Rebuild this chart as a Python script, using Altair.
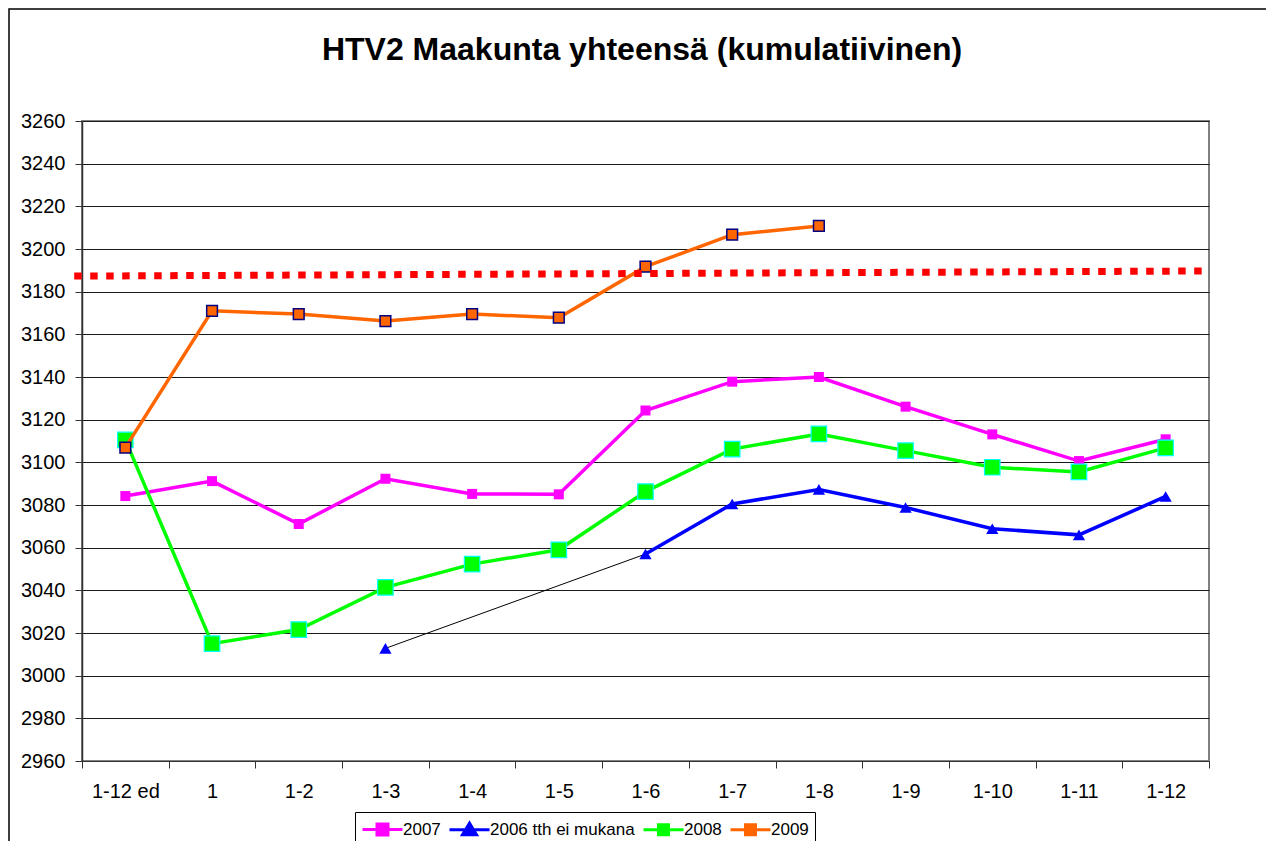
import json
import altair as alt
import pandas as pd

# ---------------- data ----------------
title_text = "HTV2 Maakunta yhteensä (kumulatiivinen)"
categories = ["1-12 ed", "1", "1-2", "1-3", "1-4", "1-5", "1-6",
              "1-7", "1-8", "1-9", "1-10", "1-11", "1-12"]
series_names = ["2007", "2006 tth ei mukana", "2008", "2009"]

v2007 = [3084.2, 3091.2, 3071.1, 3092.3, 3085.2, 3085.0, 3124.3,
         3137.8, 3140.0, 3126.1, 3113.1, 3100.6, 3110.8]
v2006 = [None, None, None, 3012.8, None, None, 3057.0,
         3080.5, 3087.3, 3078.8, 3068.9, 3066.0, 3084.0]
v2008 = [3110.5, 3015.0, 3021.6, 3041.4, 3052.3, 3059.0, 3086.3,
         3106.2, 3113.3, 3105.5, 3097.7, 3095.5, 3106.8]
v2009 = [3106.9, 3171.0, 3169.5, 3166.2, 3169.5, 3167.8, 3191.7,
         3206.7, 3210.8, None, None, None, None]

trend_x = [-0.59, 12.44]
trend_y = [3187.3, 3189.7]

y_ticks = list(range(2960, 3261, 20))

# ---------------- tables ----------------
def series_df(name, vals):
    return pd.DataFrame({"idx": list(range(len(categories))),
                         "cat": categories,
                         "series": name,
                         "value": vals})

d2007 = series_df("2007", v2007)
d2006 = series_df("2006 tth ei mukana", v2006)
d2008 = series_df("2008", v2008)
d2009 = series_df("2009", v2009)
d2006_valid = d2006.dropna()
trend_df = pd.DataFrame({"idx": trend_x, "value": trend_y})

# ---------------- layout ----------------
PLOT_W = 1127
PLOT_H = 640
band = PLOT_W / len(categories)
FONT = "Liberation Sans"

label_expr = ("datum.value < 12 ? " + json.dumps(categories, ensure_ascii=False)
              + "[round(datum.value + 0.5)] : ''")

x_enc = alt.X(
    "idx:Q",
    scale=alt.Scale(domain=[-0.5, len(categories) - 0.5], nice=False, zero=False),
    axis=alt.Axis(values=[i - 0.5 for i in range(len(categories) + 1)],
                  title=None, grid=False, labelExpr=label_expr,
                  labelOffset=band / 2, labelFlush=False, labelOverlap=False,
                  labelBound=False, tickSize=7, labelPadding=13,
                  domainColor="#333333", tickColor="#333333",
                  labelFontSize=20, labelColor="black"),
)
y_enc = alt.Y(
    "value:Q",
    scale=alt.Scale(domain=[2960, 3260], nice=False, zero=False),
    axis=alt.Axis(values=y_ticks, format="d", title=None, grid=True,
                  gridColor="#1a1a1a", gridWidth=1, tickSize=7, labelPadding=10,
                  domainColor="#333333", domainWidth=1.5, tickColor="#333333",
                  labelFontSize=20, labelColor="black"),
)

def line_layer(df, color, width, **kw):
    return alt.Chart(df).mark_line(color=color, strokeWidth=width, **kw).encode(
        x=x_enc, y=y_enc)

def point_layer(df, shape, size, fill, stroke=None, sw=0):
    props = dict(shape=shape, size=size, fill=fill, filled=True, opacity=1)
    if stroke is not None:
        props.update(stroke=stroke, strokeWidth=sw)
    return alt.Chart(df).mark_point(**props).encode(x=x_enc, y=y_enc)

# outer border of the chart area
border = alt.Chart(alt.Data(values=[{"a": 1}])).mark_rect(
    fillOpacity=0, stroke="black", strokeWidth=1.5, clip=False
).encode(x=alt.value(-73), y=alt.value(-112), x2=alt.value(1400), y2=alt.value(900))

# chart title (as a text mark above the plot)
title = alt.Chart(alt.Data(values=[{"t": title_text}])).mark_text(
    font=FONT, fontSize=32, fontWeight="bold", align="center",
    baseline="alphabetic", color="black", clip=False
).encode(x=alt.value(560), y=alt.value(-61), text="t:N")

l2007 = line_layer(d2007, "#FF00FF", 3.5)
p2007 = point_layer(d2007, "square", 100, "#FF00FF")

l2006_conn = line_layer(d2006_valid, "black", 1)
l2006 = line_layer(d2006, "#0000FF", 3.5, invalid="break-paths-show-domains")
p2006 = point_layer(d2006_valid, "triangle-up", 150, "#0000FF")

l2008 = line_layer(d2008, "#00FF00", 3.5)
p2008 = point_layer(d2008, "square", 240, "#00FF00", "#00FFFF", 1.2)

l2009 = line_layer(d2009, "#FF6600", 3.5)
p2009 = point_layer(d2009, "square", 115, "#FF6600", "#000080", 1.5)

trend = alt.Chart(trend_df).mark_line(
    color="#FF0000", strokeWidth=7, strokeDash=[7.5, 8.5], strokeCap="butt", clip=False
).encode(x=x_enc, y=y_enc)

# legend (built from the series names, drawn through the legend only)
legend_colors = ["#FF00FF", "#0000FF", "#00FF00", "#FF6600"]
legend_paths = [
    "M-1,0H3M0.45,-0.55H1.55V0.55H0.45Z",
    "M-1,0H3M0.3,0.5H1.7L1,-0.65Z",
    "M-1,0H3M0.5,-0.5H1.5V0.5H0.5Z",
    "M-1,0H3M0.5,-0.5H1.5V0.5H0.5Z",
]
leg = alt.Legend(orient="none", legendX=273, legendY=691, direction="horizontal",
                 columns=4, title=None, strokeColor="black", fillColor="white",
                 padding=6, labelFontSize=17, labelFont=FONT,
                 labelColor="black", symbolSize=400, symbolStrokeWidth=3,
                 labelOffset=19, columnPadding=2, labelLimit=0)
legend_layer = alt.Chart(alt.Data(values=[])).mark_point(opacity=1, filled=True).encode(
    fill=alt.Fill("series:N", scale=alt.Scale(domain=series_names, range=legend_colors), legend=leg),
    stroke=alt.Stroke("series:N", scale=alt.Scale(domain=series_names, range=legend_colors), legend=leg),
    shape=alt.Shape("series:N", scale=alt.Scale(domain=series_names, range=legend_paths), legend=leg),
)

chart = alt.layer(
    border,
    title,
    l2007, p2007,
    l2006_conn, l2006, p2006,
    l2008, p2008,
    l2009, p2009,
    trend,
    legend_layer,
).properties(
    width=PLOT_W, height=PLOT_H,
    autosize=alt.AutoSizeParams(type="none"),
    padding={"left": 74, "top": 113, "right": 57, "bottom": 80},
).configure_view(
    fill="#C0C0C0", stroke="#808080", strokeWidth=2
).configure_axis(
    labelFont=FONT
)

chart.save("out.html", embed_options={"renderer": "svg", "actions": False})
